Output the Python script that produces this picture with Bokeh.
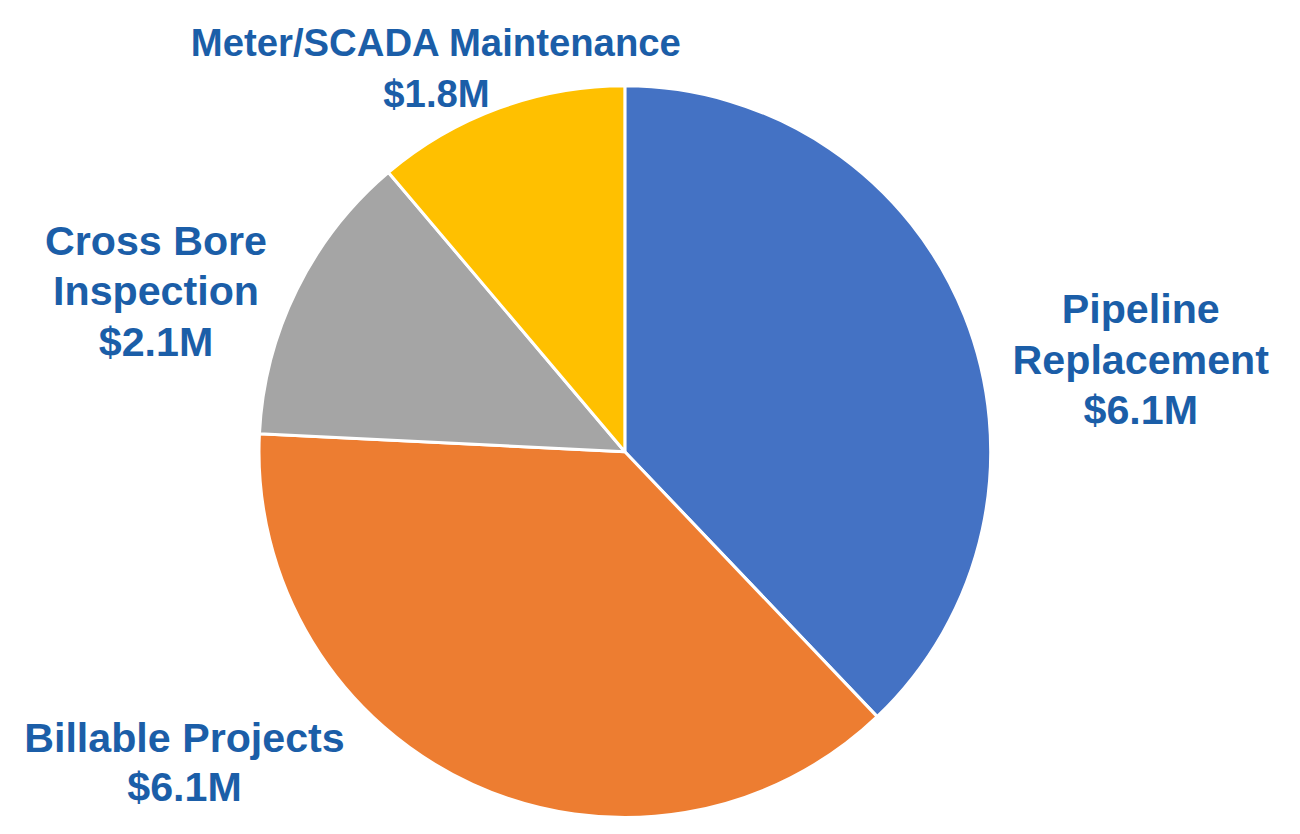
import math
from bokeh.plotting import figure
from bokeh.models import Range1d, ColumnDataSource
from bokeh.core.properties import value
from bokeh.embed import file_html
from bokeh.resources import INLINE

# ---- data ----
categories = ["Pipeline Replacement", "Billable Projects", "Cross Bore Inspection", "Meter/SCADA Maintenance"]
values_m = [6.1, 6.1, 2.1, 1.8]
colors = ["#4472C4", "#ED7D31", "#A5A5A5", "#FFC000"]
label_lines = [["Pipeline", "Replacement", "$6.1M"],
               ["Billable Projects", "$6.1M"],
               ["Cross Bore", "Inspection", "$2.1M"],
               ["Meter/SCADA Maintenance", "$1.8M"]]

# ---- layout (reference pixel coords, y measured from the top) ----
W, H = 1284, 818
REF_W, REF_H = 1300, 834
s = min(W / REF_W, H / REF_H)
off_x = (W - REF_W * s) / 2
cx, cy_page, R = 632, 460, 373
label_anchor = [(1158, 315), (183, 752), (154, 245), (440, 43)]  # center x, first baseline y
label_font = [42, 42, 42, 39]
line_step = [51.5, 50, 51.5, 51.5]

def ty(page_y):
    return REF_H - page_y

p = figure(width=W, height=H, output_backend="svg", toolbar_location=None,
           x_range=Range1d(-off_x / s, -off_x / s + W / s),
           y_range=Range1d(0, H / s),
           min_border=0)
p.axis.visible = False
p.grid.visible = False
p.outline_line_color = None
p.background_fill_color = "white"

total = sum(values_m)
starts, ends = [], []
cum = 0.0
for v in values_m:
    a0 = math.pi / 2 - 2 * math.pi * cum / total
    cum += v
    a1 = math.pi / 2 - 2 * math.pi * cum / total
    starts.append(a1)
    ends.append(a0)

src = ColumnDataSource(dict(start=starts, end=ends, color=colors, name=categories))
p.wedge(x=cx, y=ty(cy_page), radius=R, start_angle="start", end_angle="end",
        fill_color="color", line_color="white", line_width=3, source=src)

tx, tyv, tt, tf = [], [], [], []
for lines, (ax, ay), fs, st in zip(label_lines, label_anchor, label_font, line_step):
    for i, ln in enumerate(lines):
        tx.append(ax)
        tyv.append(ty(ay + i * st))
        tt.append(ln)
        tf.append(f"{fs * s:.1f}px")

tsrc = ColumnDataSource(dict(x=tx, y=tyv, text=tt, fs=tf))
p.text(x="x", y="y", text="text", text_font_size="fs", source=tsrc,
       text_align="center", text_baseline="alphabetic",
       text_font=value("Liberation Sans"), text_font_style="bold",
       text_color="#1B5EA8")

open("out.html", "w").write(file_html(p, INLINE))
